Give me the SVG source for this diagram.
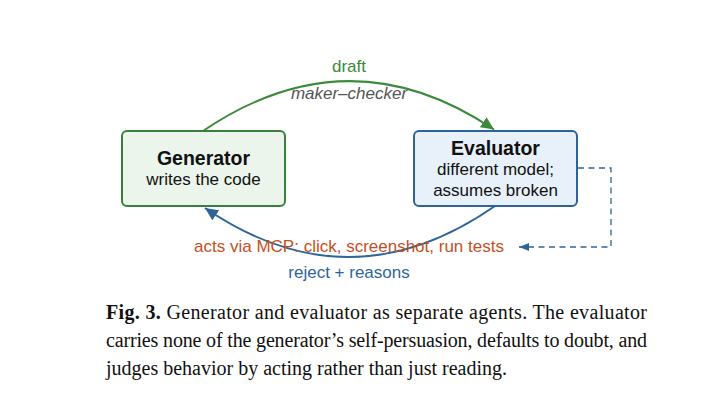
<svg xmlns="http://www.w3.org/2000/svg" width="728" height="418" viewBox="0 0 728 418">
<style>
.sans{font-family:"Liberation Sans",Arial,sans-serif}
.title{font-size:19.5px;font-weight:bold;fill:#111;text-anchor:middle}
.body{font-size:17px;fill:#111;text-anchor:middle}
.lbl{font-size:17px;text-anchor:middle}
.cap{font-family:"Liberation Serif","Times New Roman",serif;font-size:20px;fill:#111}
</style>
<defs>
<marker id="ag" markerUnits="userSpaceOnUse" markerWidth="14" markerHeight="12" refX="13" refY="6" orient="auto"><path d="M0,0 L13,6 L0,12 z" fill="#3b8a3b"/></marker>
<marker id="ab" markerUnits="userSpaceOnUse" markerWidth="14" markerHeight="12" refX="13" refY="6" orient="auto"><path d="M0,0 L13,6 L0,12 z" fill="#2e6599"/></marker>
<marker id="ad" markerUnits="userSpaceOnUse" markerWidth="11" markerHeight="8" refX="10" refY="4" orient="auto"><path d="M0,0 L10,4 L0,8 z" fill="#2e6599"/></marker>
</defs>
<rect width="728" height="418" fill="#fff"/>
<g id="connectors" fill="none">
<path d="M203,131 Q349,32 494,129.5" stroke="#3b8a3b" stroke-width="2" marker-end="url(#ag)"/>
<path d="M495,206 Q350,307 205,208" stroke="#2e6599" stroke-width="2" marker-end="url(#ab)"/>
<path d="M578,168 H611 V247 H519" stroke="#2e6599" stroke-width="1.3" stroke-dasharray="6,4.5" marker-end="url(#ad)"/>
</g>
<g id="generator">
<rect x="122" y="131" width="163" height="75" rx="5" fill="#ebf5ec" stroke="#3a7f3c" stroke-width="2"/>
<text class="sans title" x="203.5" y="165">Generator</text>
<text class="sans body" x="203.5" y="185">writes the code</text>
</g>
<g id="evaluator">
<rect x="414" y="131" width="163" height="75" rx="5" fill="#e8f0f9" stroke="#2f6396" stroke-width="2"/>
<text class="sans title" x="495.5" y="155">Evaluator</text>
<text class="sans body" x="495.5" y="175">different model;</text>
<text class="sans body" x="495.5" y="196">assumes broken</text>
</g>
<g id="labels">
<text class="sans lbl" x="349" y="72" fill="#3b8a3b">draft</text>
<text class="sans lbl" x="349" y="99" fill="#555" font-style="italic">maker–checker</text>
<text class="sans lbl" x="349" y="252" fill="#c4501e">acts via MCP: click, screenshot, run tests</text>
<text class="sans lbl" x="349" y="278" fill="#2e6599">reject + reasons</text>
</g>
<g id="caption" class="cap">
<text x="106" y="319" textLength="541" lengthAdjust="spacing"><tspan font-weight="bold">Fig. 3.</tspan> Generator and evaluator as separate agents. The evaluator</text>
<text x="106" y="347" textLength="541" lengthAdjust="spacing">carries none of the generator’s self-persuasion, defaults to doubt, and</text>
<text x="106" y="375">judges behavior by acting rather than just reading.</text>
</g>
</svg>
